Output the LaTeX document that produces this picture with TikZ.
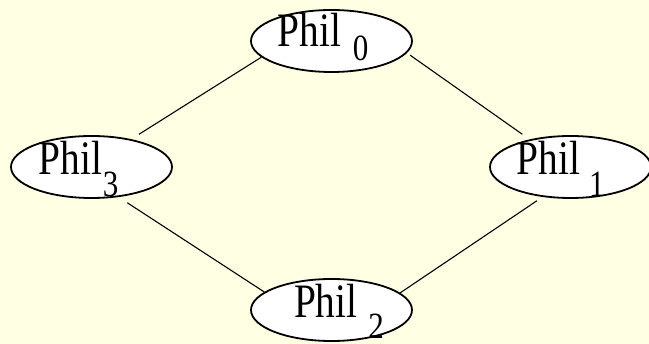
\documentclass[tikz,border=0pt]{standalone}
\usepackage{fontspec}
\usepackage{graphicx}
\setmainfont{Liberation Serif}
\usetikzlibrary{shapes.geometric}

\definecolor{bgyellow}{RGB}{255,255,227}

% Name of a philosopher, set in a box of no size so that it does not
% change the ellipse round it.
% #1 = index, #2 = gap before the index, #3 = drop of the index,
% #4 = left edge from the centre, #5 = baseline below the centre
\newcommand\philname[5]{%
  \makebox[0pt][l]{\hspace*{#4pt}\raisebox{-#5pt}[0pt][0pt]{%
    \fontsize{48}{48}\selectfont\scalebox{0.82}[1]{Phil}\kern#2pt%
    \raisebox{-#3pt}[0pt][0pt]{\scalebox{0.84}[1]{\fontsize{37}{37}\selectfont #1}}}}}

\tikzset{
  philnode/.style={ellipse, draw=black, fill=white, line width=1.8pt,
    minimum width=161pt, minimum height=62pt, inner sep=0pt, text=black},
  link/.style={draw=black, line width=1.1pt},
}

\begin{document}
\begin{tikzpicture}[x=1pt, y=-1pt]
  \fill[bgyellow] (0,0) rectangle (649,344);
  \useasboundingbox (0,0) rectangle (649,344);

  % the four philosophers round the table
  \node[philnode] (p0) at (331.5,41)  {\philname{0}{12}{13.5}{-54}{6}};
  \node[philnode] (p3) at (91.5,167)  {\philname{3}{1}{21.5}{-53}{8}};
  \node[philnode] (p1) at (570.5,167) {\philname{1}{9}{21.5}{-53.8}{8}};
  \node[philnode] (p2) at (331.5,310) {\philname{2}{11}{21}{-37.5}{8}};

  % neighbours share a fork
  \draw[link, shorten >=9.1pt] (p0.193.4) -- (p3.35);
  \draw[link, shorten <=3.8pt, shorten >=8.9pt] (p0.351.8) -- (p1.146.4);
  \draw[link, shorten >=10.4pt] (p2.165.4) -- (p3.312.5);
  \draw[link, shorten >=6.8pt] (p2.14.3) -- (p1.227.4);
\end{tikzpicture}
\end{document}
